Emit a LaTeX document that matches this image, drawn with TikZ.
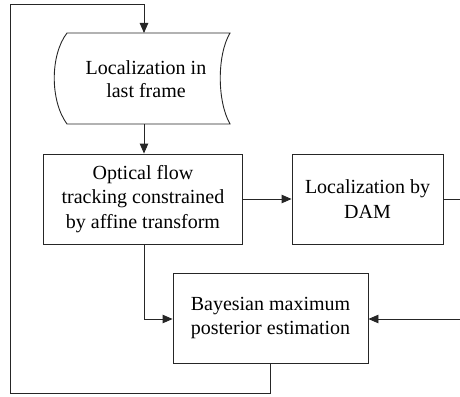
\documentclass[tikz,border=0pt]{standalone}
\usepackage{fontspec}
\setmainfont{LiberationSerif}[Extension=.ttf,UprightFont=*-Regular,BoldFont=*-Bold,ItalicFont=*-Italic,BoldItalicFont=*-BoldItalic]
\usetikzlibrary{arrows.meta}
\begin{document}
\begin{tikzpicture}[x=1pt,y=-1pt,
  box/.style={draw=black!85,line width=0.9pt,align=center,inner sep=0pt,
    font=\fontsize{20}{24.5}\selectfont},
  lbl/.style={align=center,inner sep=0pt,font=\fontsize{20}{23}\selectfont},
  conn/.style={draw=black!85,line width=0.9pt},
  arr/.style={conn,-{Triangle[length=10pt,width=8.5pt]}}]
\useasboundingbox (0,0) rectangle (460,396);
% storage shape
\node[lbl] (store) at (146,79) {Localization in\\last frame};
\draw[conn] (67,33) -- (230,33) .. controls (217,55) and (217,101) .. (230,124)
  -- (67,124) .. controls (50,101) and (50,55) .. (67,33) -- cycle;
\coordinate (storetop) at (144,33);
\coordinate (storebot) at (144,124);
% boxes
\node[box,minimum width=199pt,minimum height=90pt] (opt) at (143,199)
  {Optical flow\\tracking constrained\\by affine transform};
\node[box,minimum width=151pt,minimum height=90pt] (dam) at (367.5,199)
  {Localization by\\DAM};
\node[box,minimum width=195pt,minimum height=90pt] (bay) at (270.5,318)
  {Bayesian maximum\\posterior estimation};
% coordinates
\coordinate (c1) at (270,393);
\coordinate (c2) at (10,393);
\coordinate (c3) at (10,4);
\coordinate (c4) at (144,4);
\coordinate (c5) at (144,319);
\coordinate (rEdge1) at (461,199);
\coordinate (rEdge2) at (461,319);
% connectors
\draw[arr] (bay.south -| c1) -- (c1) -- (c2) -- (c3) -- (c4) -- (storetop);
\draw[arr] (storebot) -- (storebot |- opt.north);
\draw[arr] (opt.east) -- (dam.west);
\draw[conn] (dam.east) -- (rEdge1);
\draw[arr] (opt.south -| c5) -- (c5) -- (bay.west |- c5);
\draw[arr] (rEdge2) -- (bay.east |- rEdge2);
\end{tikzpicture}
\end{document}
